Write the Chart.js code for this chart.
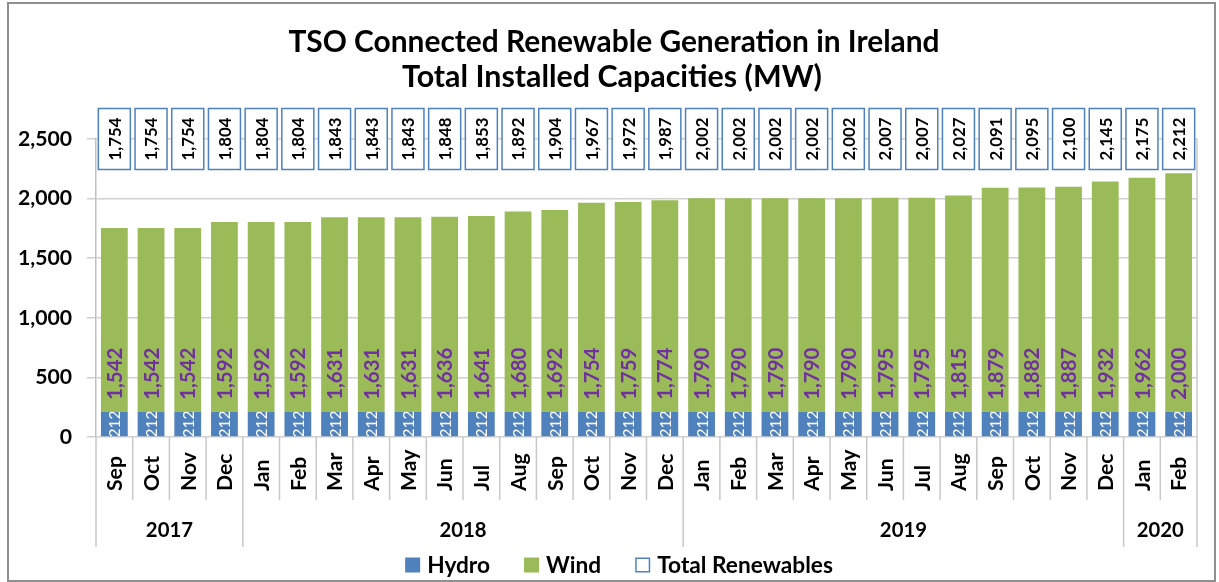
<!DOCTYPE html>
<html>
<head>
<meta charset="utf-8">
<script src="https://cdn.jsdelivr.net/npm/chart.js@4.4.1/dist/chart.umd.min.js"></script>
<style>
  html, body { margin: 0; padding: 0; background: #fff; }
  #wrap { width: 1219px; height: 582px; }
</style>
</head>
<body>
<div id="wrap"><canvas id="c" width="1219" height="582"></canvas></div>
<script>
// ---- Data ----
const months = ['Sep','Oct','Nov','Dec',
  'Jan','Feb','Mar','Apr','May','Jun','Jul','Aug','Sep','Oct','Nov','Dec',
  'Jan','Feb','Mar','Apr','May','Jun','Jul','Aug','Sep','Oct','Nov','Dec',
  'Jan','Feb'];
const years = ['2017','2018','2019','2020'];
const yearCounts = [4, 12, 12, 2];
const hydro = [212,212,212,212,212,212,212,212,212,212,212,212,212,212,212,212,
  212,212,212,212,212,212,212,212,212,212,212,212,212,212];
const wind = [1542,1542,1542,1592,1592,1592,1631,1631,1631,1636,1641,1680,1692,1754,1759,1774,
  1790,1790,1790,1790,1790,1795,1795,1815,1879,1882,1887,1932,1962,2000];
const totals = [1754,1754,1754,1804,1804,1804,1843,1843,1843,1848,1853,1892,1904,1967,1972,1987,
  2002,2002,2002,2002,2002,2007,2007,2027,2091,2095,2100,2145,2175,2212];
const yTicks = [0, 500, 1000, 1500, 2000, 2500];
const titleLines = ['TSO Connected Renewable Generation in Ireland', 'Total Installed Capacities (MW)'];

// ---- Styles ----
const FAMILY = 'Lato, "Open Sans", sans-serif';
const HYDRO_C = '#4F81BD', WIND_C = '#9BBB59', PURPLE = '#7030A0';
const mctx = document.createElement('canvas').getContext('2d');
function fit(text, w, weight) {
  let s = 20;
  for (let i = 0; i < 4; i++) {
    mctx.font = weight + ' ' + s + 'px ' + FAMILY;
    s = s * w / mctx.measureText(text).width;
  }
  return Math.round(s * 10) / 10;
}
const F = {
  title1: fit(titleLines[0], 652, 'bold'),
  title2: fit(titleLines[1], 420, 'bold'),
  ytick: fit('2,500', 54, 'bold'),
  total: fit('1,754', 43, 'bold'),
  wind: fit('1,542', 52, 'bold'),
  hydro: fit('212', 27, 'normal'),
  month: fit('Sep', 35, 'bold'),
  year: fit('2017', 47, 'bold'),
  legend: fit('Total Renewables', 176, 'bold')
};
const font = (w, s) => w + ' ' + s + 'px ' + FAMILY;

const overlay = {
  id: 'overlay',
  afterDraw(chart) {
    const ctx = chart.ctx, ca = chart.chartArea;
    const xs = chart.scales.x, ys = chart.scales.y;
    const step = xs.getPixelForValue(1) - xs.getPixelForValue(0);
    ctx.save();
    // outer frame
    ctx.strokeStyle = '#8f8f8f'; ctx.lineWidth = 2;
    ctx.strokeRect(8, 3, 1207, 578);
    // plot right border
    ctx.strokeStyle = '#c8c8c8'; ctx.lineWidth = 1.5;
    ctx.beginPath(); ctx.moveTo(ca.right, ca.top); ctx.lineTo(ca.right, ca.bottom); ctx.stroke();

    // title
    ctx.fillStyle = '#000'; ctx.textAlign = 'center'; ctx.textBaseline = 'middle';
    ctx.font = font('bold', F.title1); ctx.fillText(titleLines[0], 614, 42);
    ctx.font = font('bold', F.title2); ctx.fillText(titleLines[1], 612, 77);

    const m0 = chart.getDatasetMeta(0), m1 = chart.getDatasetMeta(1), m2 = chart.getDatasetMeta(2);
    // hydro labels
    m0.data.forEach((el, i) => {
      const p = el.getProps(['x','y','base','width'], true);
      ctx.save();
      ctx.beginPath(); ctx.rect(p.x - p.width/2, p.y, p.width, p.base - p.y); ctx.clip();
      ctx.translate(p.x, (p.y + p.base)/2); ctx.rotate(-Math.PI/2);
      ctx.fillStyle = '#fff'; ctx.font = font('normal', F.hydro);
      ctx.textAlign = 'center'; ctx.textBaseline = 'middle';
      ctx.fillText(String(chart.data.datasets[0].data[i]), 0, 1);
      ctx.restore();
    });
    // wind labels (inside base)
    m1.data.forEach((el, i) => {
      const p = el.getProps(['x','y','base','width'], true);
      ctx.save();
      ctx.translate(p.x, p.base - 12); ctx.rotate(-Math.PI/2);
      ctx.fillStyle = PURPLE; ctx.font = font('bold', F.wind);
      ctx.textAlign = 'left'; ctx.textBaseline = 'middle';
      ctx.fillText(chart.data.datasets[1].data[i].toLocaleString('en-US'), 0, 1);
      ctx.restore();
    });
    // total boxes
    m2.data.forEach((el, i) => {
      const x = xs.getPixelForValue(i), y = ca.top;
      ctx.fillStyle = '#fff'; ctx.fillRect(x - 16, y - 30.5, 32, 61);
      ctx.strokeStyle = HYDRO_C; ctx.lineWidth = 1.5;
      ctx.strokeRect(x - 16, y - 30.5, 32, 61);
      ctx.save();
      ctx.translate(x, y); ctx.rotate(-Math.PI/2);
      ctx.fillStyle = '#000'; ctx.font = font('bold', F.total);
      ctx.textAlign = 'center'; ctx.textBaseline = 'middle';
      ctx.fillText(chart.data.datasets[2].data[i].toLocaleString('en-US'), 0, 1);
      ctx.restore();
    });

    // category axis: separators
    ctx.strokeStyle = '#c8c8c8'; ctx.lineWidth = 1.5;
    const bounds = new Set([0]); let acc = 0;
    yearCounts.forEach(c => { acc += c; bounds.add(acc); });
    for (let i = 0; i <= months.length; i++) {
      const bx = xs.getPixelForValue(0) - step/2 + i * step;
      ctx.beginPath(); ctx.moveTo(bx, ca.bottom);
      ctx.lineTo(bx, bounds.has(i) ? 547 : 500); ctx.stroke();
    }
    // month labels
    months.forEach((m, i) => {
      const x = xs.getPixelForValue(i);
      ctx.save(); ctx.translate(x, 491); ctx.rotate(-Math.PI/2);
      ctx.fillStyle = '#000'; ctx.font = font('bold', F.month);
      ctx.textAlign = 'left'; ctx.textBaseline = 'middle';
      ctx.fillText(m, 0, 1);
      ctx.restore();
    });
    // year labels
    let start = 0;
    ctx.fillStyle = '#000'; ctx.font = font('bold', F.year);
    ctx.textAlign = 'center'; ctx.textBaseline = 'middle';
    years.forEach((yr, k) => {
      const a = xs.getPixelForValue(start) - step/2;
      const b = xs.getPixelForValue(start + yearCounts[k] - 1) + step/2;
      ctx.fillText(yr, (a + b)/2, 530);
      start += yearCounts[k];
    });

    // legend
    const items = chart.data.datasets.map((d, i) => ({ label: d.label, i }));
    ctx.font = font('bold', F.legend);
    const sq = 15, gapA = 7, gapB = 34;
    const widths = items.map(it => ctx.measureText(it.label).width);
    const total = widths.reduce((s, w) => s + sq + gapA + w, 0) + gapB * (items.length - 1);
    let lx = 619 - total/2; const ly = 565;
    items.forEach((it, k) => {
      if (it.i === 2) {
        ctx.fillStyle = '#fff'; ctx.fillRect(lx + 0.75, ly - sq/2 + 0.75, sq - 1.5, sq - 1.5);
        ctx.strokeStyle = HYDRO_C; ctx.lineWidth = 1.5;
        ctx.strokeRect(lx + 0.75, ly - sq/2 + 0.75, sq - 1.5, sq - 1.5);
      } else {
        ctx.fillStyle = chart.data.datasets[it.i].backgroundColor;
        ctx.fillRect(lx, ly - sq/2, sq, sq);
      }
      ctx.fillStyle = '#000'; ctx.textAlign = 'left'; ctx.textBaseline = 'middle';
      ctx.fillText(it.label, lx + sq + gapA, ly + 1);
      lx += sq + gapA + widths[k] + gapB;
    });
    ctx.restore();
  }
};

new Chart(document.getElementById('c'), {
  type: 'bar',
  data: {
    labels: months,
    datasets: [
      { label: 'Hydro', data: hydro, backgroundColor: HYDRO_C, stack: 's', barPercentage: 0.73, categoryPercentage: 1 },
      { label: 'Wind', data: wind, backgroundColor: WIND_C, stack: 's', barPercentage: 0.73, categoryPercentage: 1 },
      { label: 'Total Renewables', type: 'line', data: totals, showLine: false, pointRadius: 0, pointHoverRadius: 0,
        borderColor: HYDRO_C, backgroundColor: '#fff' }
    ]
  },
  options: {
    responsive: false,
    animation: false,
    events: [],
    layout: { padding: { top: 139, bottom: 145, left: 0, right: 22 } },
    plugins: { legend: { display: false }, title: { display: false }, tooltip: { enabled: false } },
    scales: {
      x: { stacked: true, display: false, offset: true },
      y: {
        stacked: true, min: yTicks[0], max: yTicks[yTicks.length - 1],
        afterBuildTicks: s => { s.ticks = yTicks.map(v => ({ value: v })); },
        afterFit: s => { s.width = 96; },
        ticks: { padding: 15, color: '#000', font: { family: FAMILY, weight: 'bold', size: F.ytick },
          callback: v => Number(v).toLocaleString('en-US') },
        grid: { color: '#d0d0d0', lineWidth: 1.5, tickLength: 9 },
        border: { color: '#c0c0c0', width: 1.5 }
      }
    }
  },
  plugins: [overlay]
});
</script>
</body>
</html>
